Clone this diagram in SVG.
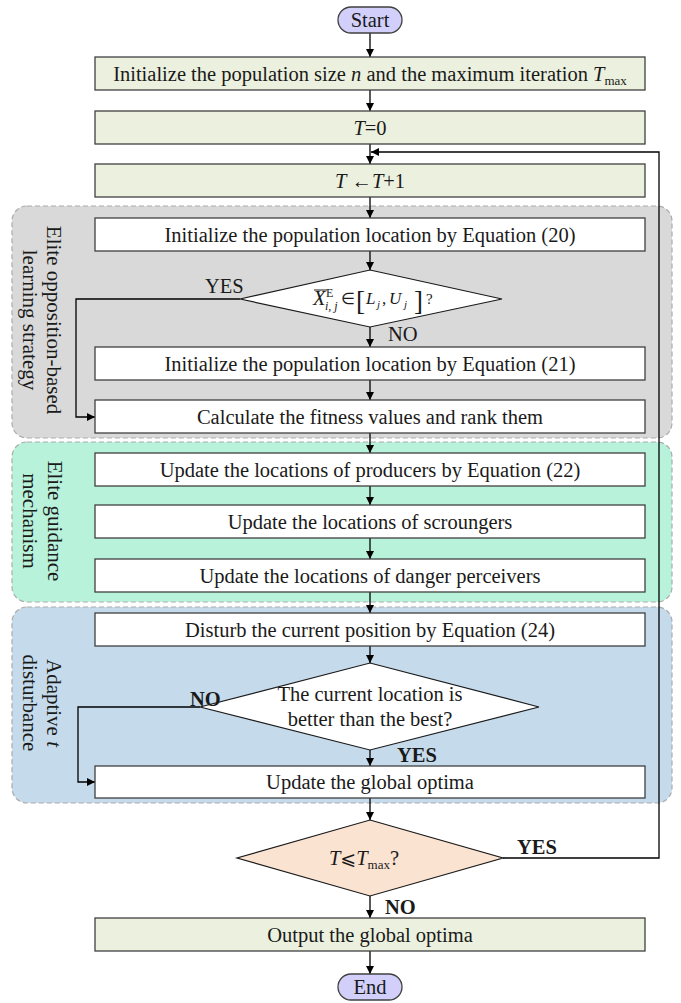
<svg xmlns="http://www.w3.org/2000/svg" width="681" height="1003" viewBox="0 0 681 1003">
  <defs>
    <marker id="arrow" viewBox="0 0 10 10" refX="10" refY="5" markerWidth="8" markerHeight="8" markerUnits="userSpaceOnUse" orient="auto">
      <path d="M0,0 L10,5 L0,10 z" fill="#000"/>
    </marker>
    <style>
      text { font-family: "Liberation Serif", "Times New Roman", serif; font-size: 20.5px; fill: #1a1a1a; }
      .c { text-anchor: middle; }
      .it { font-style: italic; }
      .b { font-weight: bold; }
      .box { fill: #ffffff; stroke: #404040; stroke-width: 1.3; }
      .boxg { fill: #ebf1de; stroke: #404040; stroke-width: 1.3; }
      .pill { fill: #d2d0fa; stroke: #404040; stroke-width: 1.3; }
      .dia { fill: #ffffff; stroke: #1a1a1a; stroke-width: 1.2; }
      .dia-loop { fill: #fbe3d2; stroke: #1a1a1a; stroke-width: 1.2; }
      .grp { stroke: #ababab; stroke-width: 1.2; stroke-dasharray: 5 3; }
      .vlab { text-anchor: middle; dominant-baseline: central; font-size: 21px; }
      .edge-a { fill: none; stroke: #000; stroke-width: 1.3; marker-end: url(#arrow); }
    </style>
  </defs>

  <!-- stage backgrounds -->
  <g id="stage-elite-opposition">
    <rect class="grp" x="12" y="206" width="660" height="232" rx="15" fill="#d9d9d9"/>
    <text class="vlab" transform="translate(54,320) rotate(90)">Elite opposition-based</text>
    <text class="vlab" transform="translate(30,320) rotate(90)">learning strategy</text>
  </g>
  <g id="stage-elite-guidance">
    <rect class="grp" x="12" y="442" width="660" height="160" rx="15" fill="#b8f2db"/>
    <text class="vlab" transform="translate(55,521) rotate(90)">Elite guidance</text>
    <text class="vlab" transform="translate(30,521) rotate(90)">mechanism</text>
  </g>
  <g id="stage-adaptive-t">
    <rect class="grp" x="12" y="607" width="660" height="196" rx="15" fill="#c5dbec"/>
    <text class="vlab" transform="translate(54,703) rotate(90)">Adaptive <tspan class="it">t</tspan></text>
    <text class="vlab" transform="translate(30,703) rotate(90)">disturbance</text>
  </g>

  <!-- connectors -->
  <g id="connectors">
    <line class="edge-a" x1="370" y1="33" x2="370" y2="57"/>
    <line class="edge-a" x1="370" y1="90" x2="370" y2="111"/>
    <line class="edge-a" x1="370" y1="144" x2="370" y2="164"/>
    <line class="edge-a" x1="370" y1="197" x2="370" y2="218"/>
    <line class="edge-a" x1="370" y1="251" x2="370" y2="270"/>
    <line class="edge-a" x1="370" y1="327" x2="370" y2="347"/>
    <line class="edge-a" x1="370" y1="380" x2="370" y2="400"/>
    <line class="edge-a" x1="370" y1="433" x2="370" y2="453"/>
    <line class="edge-a" x1="370" y1="486" x2="370" y2="505"/>
    <line class="edge-a" x1="370" y1="538" x2="370" y2="559"/>
    <line class="edge-a" x1="370" y1="592" x2="370" y2="613"/>
    <line class="edge-a" x1="370" y1="646" x2="370" y2="663"/>
    <line class="edge-a" x1="370" y1="750" x2="370" y2="766"/>
    <line class="edge-a" x1="370" y1="798" x2="370" y2="820"/>
    <line class="edge-a" x1="370" y1="896" x2="370" y2="918"/>
    <line class="edge-a" x1="370" y1="951" x2="370" y2="974"/>
    <!-- bound check: inside range skips Equation (21) -->
    <polyline class="edge-a" points="240,299 76,299 76,417 95,417"/>
    <!-- not better: go straight to the update -->
    <polyline class="edge-a" points="200,707 78,707 78,782 95,782"/>
    <!-- iteration loop back to T<-T+1 -->
    <polyline class="edge-a" points="503,858 659,858 659,152 371,152"/>
  </g>

  <g id="start">
    <rect class="pill" x="338" y="7" width="64" height="26" rx="13"/>
    <text class="c" x="370" y="27">Start</text>
  </g>

  <g id="init-params">
    <rect class="boxg" x="95" y="57" width="550" height="33"/>
    <text class="c" x="370" y="80.5">Initialize the population size <tspan class="it">n</tspan> and the maximum iteration <tspan class="it">T</tspan><tspan font-size="13" dy="4">max</tspan></text>
  </g>

  <g id="t-zero">
    <rect class="boxg" x="95" y="111" width="550" height="33"/>
    <text class="c" x="370" y="134.5"><tspan class="it">T</tspan>=0</text>
  </g>

  <g id="t-increment">
    <rect class="boxg" x="95" y="164" width="550" height="33"/>
    <text class="c" x="370" y="187.5"><tspan class="it">T</tspan> ←<tspan class="it">T</tspan>+1</text>
  </g>

  <g id="init-eq20">
    <rect class="box" x="95" y="218" width="550" height="33"/>
    <text class="c" x="370" y="241.5">Initialize the population location by Equation (20)</text>
  </g>

  <g id="bound-check">
    <polygon class="dia" points="370,270 502,299 370,327 240,299"/>
    <line x1="314" y1="290" x2="327" y2="290" stroke="#1a1a1a" stroke-width="1"/>
    <text font-size="18"><tspan class="it" x="313" y="305">X</tspan><tspan x="326" y="297" font-size="12">E</tspan><tspan class="it" x="325" y="310" font-size="12">i, j</tspan><tspan x="341" y="304" font-size="16">∈</tspan><tspan x="356" y="310" font-size="27">[</tspan><tspan class="it" x="366" y="304" font-size="17">L</tspan><tspan class="it" x="377" y="308" font-size="11">j</tspan><tspan x="382" y="304" font-size="17">,</tspan><tspan class="it" x="389" y="304" font-size="17">U</tspan><tspan class="it" x="404" y="308" font-size="11">j</tspan><tspan x="414" y="310" font-size="27">]</tspan><tspan x="426" y="304" font-size="15">?</tspan></text>
    <text x="205" y="293">YES</text>
    <text x="388" y="341">NO</text>
  </g>

  <g id="init-eq21">
    <rect class="box" x="95" y="347" width="550" height="33"/>
    <text class="c" x="370" y="370.5">Initialize the population location by Equation (21)</text>
  </g>

  <g id="fitness-rank">
    <rect class="box" x="95" y="400" width="550" height="33"/>
    <text class="c" x="370" y="423.5">Calculate the fitness values and rank them</text>
  </g>

  <g id="producers">
    <rect class="box" x="95" y="453" width="550" height="33"/>
    <text class="c" x="370" y="476.5">Update the locations of producers by Equation (22)</text>
  </g>

  <g id="scroungers">
    <rect class="box" x="95" y="505" width="550" height="33"/>
    <text class="c" x="370" y="528.5">Update the locations of scroungers</text>
  </g>

  <g id="danger-perceivers">
    <rect class="box" x="95" y="559" width="550" height="33"/>
    <text class="c" x="370" y="582.5">Update the locations of danger perceivers</text>
  </g>

  <g id="disturb-eq24">
    <rect class="box" x="95" y="613" width="550" height="33"/>
    <text class="c" x="370" y="636.5">Disturb the current position by Equation (24)</text>
  </g>

  <g id="better-check">
    <polygon class="dia" points="370,663 539,707 370,750 200,707"/>
    <text class="c" x="370" y="701">The current location is</text>
    <text class="c" x="370" y="726">better than the best?</text>
    <text class="b" x="190" y="706">NO</text>
    <text class="b" x="397" y="762">YES</text>
  </g>

  <g id="update-optima">
    <rect class="box" x="95" y="766" width="550" height="32"/>
    <text class="c" x="370" y="789">Update the global optima</text>
  </g>

  <g id="iteration-check">
    <polygon class="dia-loop" points="370,820 503,858 370,896 237,858"/>
    <text class="c" x="364" y="865"><tspan class="it">T</tspan><tspan font-family="DejaVu Serif, DejaVu Sans, sans-serif" font-size="19">⩽</tspan><tspan class="it">T</tspan><tspan font-size="13" dy="4">max</tspan><tspan dy="-4">?</tspan></text>
    <text class="b" x="517" y="854">YES</text>
    <text class="b" x="385" y="914">NO</text>
  </g>

  <g id="output-optima">
    <rect class="boxg" x="95" y="918" width="550" height="33"/>
    <text class="c" x="370" y="941.5">Output the global optima</text>
  </g>

  <g id="end">
    <rect class="pill" x="338" y="974" width="64" height="26" rx="13"/>
    <text class="c" x="370" y="994">End</text>
  </g>
</svg>
